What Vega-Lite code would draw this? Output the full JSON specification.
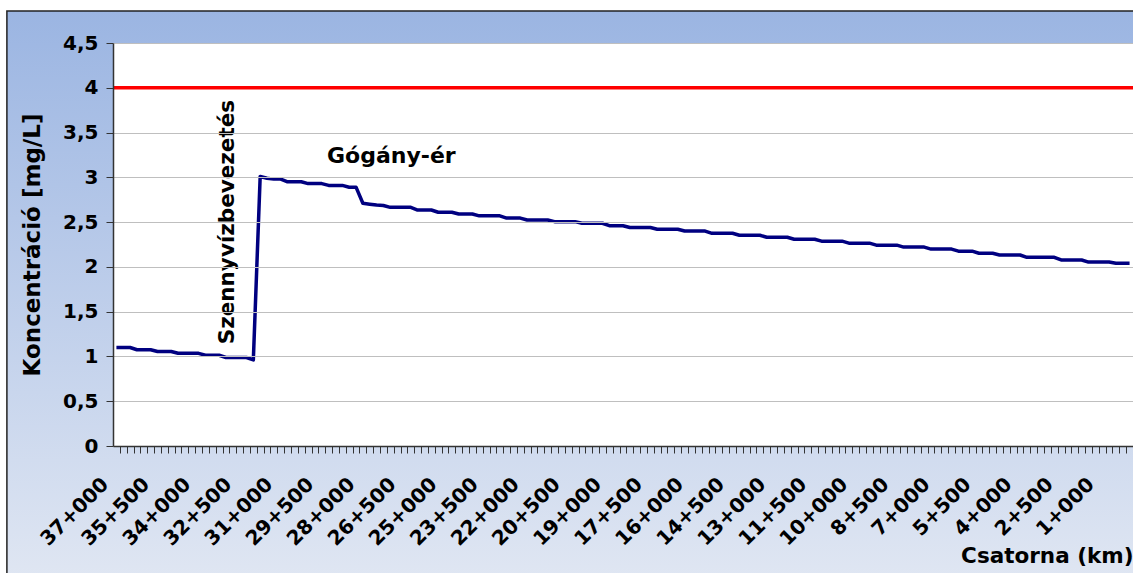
{
  "$schema": "https://vega.github.io/schema/vega-lite/v6.json",
  "width": 1020,
  "height": 403,
  "autosize": {"type": "none"},
  "padding": {"left": 113, "top": 43, "right": 0, "bottom": 127},
  "background": "white",
  "config": {"view": {"stroke": null}, "font": "DejaVu Sans"},
  "data": {"values": [
    {"km":37,"konc":1.1},{"km":36.75,"konc":1.1},{"km":36.5,"konc":1.1},{"km":36.25,"konc":1.075},{"km":36,"konc":1.075},{"km":35.75,"konc":1.075},
    {"km":35.5,"konc":1.055},{"km":35.25,"konc":1.055},{"km":35,"konc":1.055},{"km":34.75,"konc":1.035},{"km":34.5,"konc":1.035},{"km":34.25,"konc":1.035},
    {"km":34,"konc":1.035},{"km":33.75,"konc":1.013},{"km":33.5,"konc":1.013},{"km":33.25,"konc":1.013},{"km":33,"konc":0.988},{"km":32.75,"konc":0.988},
    {"km":32.5,"konc":0.988},{"km":32.25,"konc":0.988},{"km":32,"konc":0.962},{"km":31.75,"konc":3.01},{"km":31.5,"konc":2.99},{"km":31.25,"konc":2.98},
    {"km":31,"konc":2.98},{"km":30.75,"konc":2.95},{"km":30.5,"konc":2.95},{"km":30.25,"konc":2.95},{"km":30,"konc":2.93},{"km":29.75,"konc":2.93},
    {"km":29.5,"konc":2.93},{"km":29.25,"konc":2.91},{"km":29,"konc":2.91},{"km":28.75,"konc":2.91},{"km":28.5,"konc":2.89},{"km":28.25,"konc":2.89},
    {"km":28,"konc":2.71},{"km":27.75,"konc":2.7},{"km":27.5,"konc":2.69},{"km":27.25,"konc":2.685},{"km":27,"konc":2.665},{"km":26.75,"konc":2.665},
    {"km":26.5,"konc":2.665},{"km":26.25,"konc":2.665},{"km":26,"konc":2.635},{"km":25.75,"konc":2.635},{"km":25.5,"konc":2.635},{"km":25.25,"konc":2.61},
    {"km":25,"konc":2.61},{"km":24.75,"konc":2.61},{"km":24.5,"konc":2.59},{"km":24.25,"konc":2.59},{"km":24,"konc":2.59},{"km":23.75,"konc":2.57},
    {"km":23.5,"konc":2.57},{"km":23.25,"konc":2.57},{"km":23,"konc":2.57},{"km":22.75,"konc":2.545},{"km":22.5,"konc":2.545},{"km":22.25,"konc":2.545},
    {"km":22,"konc":2.523},{"km":21.75,"konc":2.523},{"km":21.5,"konc":2.523},{"km":21.25,"konc":2.523},{"km":21,"konc":2.505},{"km":20.75,"konc":2.505},
    {"km":20.5,"konc":2.505},{"km":20.25,"konc":2.505},{"km":20,"konc":2.487},{"km":19.75,"konc":2.487},{"km":19.5,"konc":2.487},{"km":19.25,"konc":2.487},
    {"km":19,"konc":2.46},{"km":18.75,"konc":2.46},{"km":18.5,"konc":2.46},{"km":18.25,"konc":2.44},{"km":18,"konc":2.44},{"km":17.75,"konc":2.44},
    {"km":17.5,"konc":2.44},{"km":17.25,"konc":2.42},{"km":17,"konc":2.42},{"km":16.75,"konc":2.42},{"km":16.5,"konc":2.42},{"km":16.25,"konc":2.4},
    {"km":16,"konc":2.4},{"km":15.75,"konc":2.4},{"km":15.5,"konc":2.4},{"km":15.25,"konc":2.375},{"km":15,"konc":2.375},{"km":14.75,"konc":2.375},
    {"km":14.5,"konc":2.375},{"km":14.25,"konc":2.353},{"km":14,"konc":2.353},{"km":13.75,"konc":2.353},{"km":13.5,"konc":2.353},{"km":13.25,"konc":2.331},
    {"km":13,"konc":2.331},{"km":12.75,"konc":2.331},{"km":12.5,"konc":2.331},{"km":12.25,"konc":2.309},{"km":12,"konc":2.309},{"km":11.75,"konc":2.309},
    {"km":11.5,"konc":2.309},{"km":11.25,"konc":2.287},{"km":11,"konc":2.287},{"km":10.75,"konc":2.287},{"km":10.5,"konc":2.287},{"km":10.25,"konc":2.265},
    {"km":10,"konc":2.265},{"km":9.75,"konc":2.265},{"km":9.5,"konc":2.265},{"km":9.25,"konc":2.243},{"km":9,"konc":2.243},{"km":8.75,"konc":2.243},
    {"km":8.5,"konc":2.243},{"km":8.25,"konc":2.221},{"km":8,"konc":2.221},{"km":7.75,"konc":2.221},{"km":7.5,"konc":2.221},{"km":7.25,"konc":2.199},
    {"km":7,"konc":2.199},{"km":6.75,"konc":2.199},{"km":6.5,"konc":2.199},{"km":6.25,"konc":2.176},{"km":6,"konc":2.176},{"km":5.75,"konc":2.176},
    {"km":5.5,"konc":2.152},{"km":5.25,"konc":2.152},{"km":5,"konc":2.152},{"km":4.75,"konc":2.133},{"km":4.5,"konc":2.133},{"km":4.25,"konc":2.133},
    {"km":4,"konc":2.133},{"km":3.75,"konc":2.107},{"km":3.5,"konc":2.107},{"km":3.25,"konc":2.107},{"km":3,"konc":2.107},{"km":2.75,"konc":2.107},
    {"km":2.5,"konc":2.077},{"km":2.25,"konc":2.077},{"km":2,"konc":2.077},{"km":1.75,"konc":2.077},{"km":1.5,"konc":2.054},{"km":1.25,"konc":2.054},
    {"km":1,"konc":2.054},{"km":0.75,"konc":2.054},{"km":0.5,"konc":2.04},{"km":0.25,"konc":2.04},{"km":0,"konc":2.04}
  ]},
  "layer": [
    {
      "data": {"values": [{}]},
      "mark": {"type": "rect", "clip": false, "stroke": "#222222", "strokeWidth": 1.5,
        "fill": {"gradient": "linear", "x1": 0, "y1": 0, "x2": 0, "y2": 1,
          "stops": [{"offset": 0, "color": "#9BB5E2"}, {"offset": 1, "color": "#E2E8F3"}]}},
      "encoding": {
        "x": {"datum": 41.0, "type": "quantitative", "scale": {"domain": [-0.125, 37.125], "reverse": true, "nice": false, "zero": false},
          "axis": {"values": [37.25,37,36.75,36.5,36.25,36,35.75,35.5,35.25,35,34.75,34.5,34.25,34,33.75,33.5,33.25,33,32.75,32.5,32.25,32,31.75,31.5,31.25,31,30.75,30.5,30.25,30,29.75,29.5,29.25,29,28.75,28.5,28.25,28,27.75,27.5,27.25,27,26.75,26.5,26.25,26,25.75,25.5,25.25,25,24.75,24.5,24.25,24,23.75,23.5,23.25,23,22.75,22.5,22.25,22,21.75,21.5,21.25,21,20.75,20.5,20.25,20,19.75,19.5,19.25,19,18.75,18.5,18.25,18,17.75,17.5,17.25,17,16.75,16.5,16.25,16,15.75,15.5,15.25,15,14.75,14.5,14.25,14,13.75,13.5,13.25,13,12.75,12.5,12.25,12,11.75,11.5,11.25,11,10.75,10.5,10.25,10,9.75,9.5,9.25,9,8.75,8.5,8.25,8,7.75,7.5,7.25,7,6.75,6.5,6.25,6,5.75,5.5,5.25,5,4.75,4.5,4.25,4,3.75,3.5,3.25,3,2.75,2.5,2.25,2,1.75,1.5,1.25,1,0.75,0.5,0.25,0]}},
        "x2": {"datum": -2},
        "y": {"datum": 4.857, "type": "quantitative", "scale": {"domain": [0, 4.5], "nice": false, "zero": false},
          "axis": {"values": [0, 0.5, 1, 1.5, 2, 2.5, 3, 3.5, 4, 4.5]}},
        "y2": {"datum": -1.72}
      }
    },
    {
      "data": {"values": [{}]},
      "mark": {"type": "rect", "clip": false, "fill": "white", "strokeWidth": 0},
      "encoding": {
        "x": {"datum": 37.125, "type": "quantitative", "scale": {"domain": [-0.125, 37.125], "reverse": true, "nice": false, "zero": false},
          "axis": {"values": [37.25,37,36.75,36.5,36.25,36,35.75,35.5,35.25,35,34.75,34.5,34.25,34,33.75,33.5,33.25,33,32.75,32.5,32.25,32,31.75,31.5,31.25,31,30.75,30.5,30.25,30,29.75,29.5,29.25,29,28.75,28.5,28.25,28,27.75,27.5,27.25,27,26.75,26.5,26.25,26,25.75,25.5,25.25,25,24.75,24.5,24.25,24,23.75,23.5,23.25,23,22.75,22.5,22.25,22,21.75,21.5,21.25,21,20.75,20.5,20.25,20,19.75,19.5,19.25,19,18.75,18.5,18.25,18,17.75,17.5,17.25,17,16.75,16.5,16.25,16,15.75,15.5,15.25,15,14.75,14.5,14.25,14,13.75,13.5,13.25,13,12.75,12.5,12.25,12,11.75,11.5,11.25,11,10.75,10.5,10.25,10,9.75,9.5,9.25,9,8.75,8.5,8.25,8,7.75,7.5,7.25,7,6.75,6.5,6.25,6,5.75,5.5,5.25,5,4.75,4.5,4.25,4,3.75,3.5,3.25,3,2.75,2.5,2.25,2,1.75,1.5,1.25,1,0.75,0.5,0.25,0]}},
        "x2": {"datum": -0.125},
        "y": {"datum": 0, "type": "quantitative", "scale": {"domain": [0, 4.5], "nice": false, "zero": false},
          "axis": {"values": [0, 0.5, 1, 1.5, 2, 2.5, 3, 3.5, 4, 4.5]}},
        "y2": {"datum": 4.5}
      }
    },
    {
      "data": {"values": [{}]},
      "mark": {"type": "rule", "color": "#FF0000", "strokeWidth": 3.5},
      "encoding": {
        "y": {"datum": 4, "type": "quantitative", "scale": {"domain": [0, 4.5], "nice": false, "zero": false},
          "axis": {"values": [0, 0.5, 1, 1.5, 2, 2.5, 3, 3.5, 4, 4.5]}}
      }
    },
    {
      "mark": {"type": "line", "color": "#000080", "strokeWidth": 3.5, "strokeJoin": "round"},
      "encoding": {
        "x": {"field": "km", "type": "quantitative",
          "scale": {"domain": [-0.125, 37.125], "reverse": true, "nice": false, "zero": false},
          "axis": {
            "values": [37.25,37,36.75,36.5,36.25,36,35.75,35.5,35.25,35,34.75,34.5,34.25,34,33.75,33.5,33.25,33,32.75,32.5,32.25,32,31.75,31.5,31.25,31,30.75,30.5,30.25,30,29.75,29.5,29.25,29,28.75,28.5,28.25,28,27.75,27.5,27.25,27,26.75,26.5,26.25,26,25.75,25.5,25.25,25,24.75,24.5,24.25,24,23.75,23.5,23.25,23,22.75,22.5,22.25,22,21.75,21.5,21.25,21,20.75,20.5,20.25,20,19.75,19.5,19.25,19,18.75,18.5,18.25,18,17.75,17.5,17.25,17,16.75,16.5,16.25,16,15.75,15.5,15.25,15,14.75,14.5,14.25,14,13.75,13.5,13.25,13,12.75,12.5,12.25,12,11.75,11.5,11.25,11,10.75,10.5,10.25,10,9.75,9.5,9.25,9,8.75,8.5,8.25,8,7.75,7.5,7.25,7,6.75,6.5,6.25,6,5.75,5.5,5.25,5,4.75,4.5,4.25,4,3.75,3.5,3.25,3,2.75,2.5,2.25,2,1.75,1.5,1.25,1,0.75,0.5,0.25,0],
            "labelExpr": "(datum.value <= 37 && datum.value >= 1 && round((37 - datum.value) * 4) % 6 == 0) ? (floor(datum.value) + '+' + (datum.value % 1 == 0.5 ? '500' : '000')) : ''",
            "labelAngle": -45, "labelAlign": "right", "labelBaseline": "middle",
            "labelFont": "DejaVu Sans", "labelFontWeight": "bold", "labelFontSize": 20, "labelColor": "#000000",
            "labelOverlap": false, "labelFlush": false, "labelBound": false,
            "labelPadding": 28, "labelOffset": -15, "tickOffset": 3.42,
            "tickSize": 7, "tickColor": "#333333", "tickWidth": 1,
            "domainColor": "#333333", "domainWidth": 1.5, "grid": false,
            "title": "Csatorna (km)", "titleFont": "DejaVu Sans", "titleFontWeight": "bold", "titleFontSize": 21.5, "titleColor": "#000000",
            "titleAnchor": "start", "titleAlign": "right", "titlePadding": -4, "zindex": 2
          }},
        "y": {"field": "konc", "type": "quantitative",
          "scale": {"domain": [0, 4.5], "nice": false, "zero": false},
          "axis": {
            "values": [0, 0.5, 1, 1.5, 2, 2.5, 3, 3.5, 4, 4.5],
            "format": "~g",
            "labelExpr": "replace(datum.label, '.', ',')",
            "labelFont": "DejaVu Sans", "labelFontWeight": "bold", "labelFontSize": 20, "labelColor": "#000000",
            "labelPadding": 8, "tickSize": 7, "tickColor": "#333333", "tickWidth": 1,
            "domainColor": "#333333", "domainWidth": 1.5,
            "grid": true, "gridColor": "#BFBFBF", "gridWidth": 1,
            "gridOpacity": {"condition": {"test": "datum.value == 4 || datum.value == 0", "value": 0}, "value": 1},
            "title": "Koncentráció [mg/L]", "titleFont": "DejaVu Sans", "titleFontWeight": "bold", "titleFontSize": 23, "titleColor": "#000000",
            "titlePadding": 18, "zindex": 2
          }}
      }
    },
    {
      "data": {"values": [{}]},
      "mark": {"type": "text", "text": "Szennyvízbevezetés", "angle": 270, "align": "center", "baseline": "middle",
        "font": "DejaVu Sans", "fontWeight": "bold", "fontSize": 21.5, "color": "#000000"},
      "encoding": {
        "x": {"datum": 32.925, "type": "quantitative", "scale": {"domain": [-0.125, 37.125], "reverse": true, "nice": false, "zero": false},
          "axis": {"values": [37.25,37,36.75,36.5,36.25,36,35.75,35.5,35.25,35,34.75,34.5,34.25,34,33.75,33.5,33.25,33,32.75,32.5,32.25,32,31.75,31.5,31.25,31,30.75,30.5,30.25,30,29.75,29.5,29.25,29,28.75,28.5,28.25,28,27.75,27.5,27.25,27,26.75,26.5,26.25,26,25.75,25.5,25.25,25,24.75,24.5,24.25,24,23.75,23.5,23.25,23,22.75,22.5,22.25,22,21.75,21.5,21.25,21,20.75,20.5,20.25,20,19.75,19.5,19.25,19,18.75,18.5,18.25,18,17.75,17.5,17.25,17,16.75,16.5,16.25,16,15.75,15.5,15.25,15,14.75,14.5,14.25,14,13.75,13.5,13.25,13,12.75,12.5,12.25,12,11.75,11.5,11.25,11,10.75,10.5,10.25,10,9.75,9.5,9.25,9,8.75,8.5,8.25,8,7.75,7.5,7.25,7,6.75,6.5,6.25,6,5.75,5.5,5.25,5,4.75,4.5,4.25,4,3.75,3.5,3.25,3,2.75,2.5,2.25,2,1.75,1.5,1.25,1,0.75,0.5,0.25,0]}},
        "y": {"datum": 2.5, "type": "quantitative", "scale": {"domain": [0, 4.5], "nice": false, "zero": false},
          "axis": {"values": [0, 0.5, 1, 1.5, 2, 2.5, 3, 3.5, 4, 4.5]}}
      }
    },
    {
      "data": {"values": [{}]},
      "mark": {"type": "text", "text": "Gógány-ér", "align": "left", "baseline": "alphabetic",
        "font": "DejaVu Sans", "fontWeight": "bold", "fontSize": 22, "color": "#000000"},
      "encoding": {
        "x": {"datum": 29.31, "type": "quantitative", "scale": {"domain": [-0.125, 37.125], "reverse": true, "nice": false, "zero": false},
          "axis": {"values": [37.25,37,36.75,36.5,36.25,36,35.75,35.5,35.25,35,34.75,34.5,34.25,34,33.75,33.5,33.25,33,32.75,32.5,32.25,32,31.75,31.5,31.25,31,30.75,30.5,30.25,30,29.75,29.5,29.25,29,28.75,28.5,28.25,28,27.75,27.5,27.25,27,26.75,26.5,26.25,26,25.75,25.5,25.25,25,24.75,24.5,24.25,24,23.75,23.5,23.25,23,22.75,22.5,22.25,22,21.75,21.5,21.25,21,20.75,20.5,20.25,20,19.75,19.5,19.25,19,18.75,18.5,18.25,18,17.75,17.5,17.25,17,16.75,16.5,16.25,16,15.75,15.5,15.25,15,14.75,14.5,14.25,14,13.75,13.5,13.25,13,12.75,12.5,12.25,12,11.75,11.5,11.25,11,10.75,10.5,10.25,10,9.75,9.5,9.25,9,8.75,8.5,8.25,8,7.75,7.5,7.25,7,6.75,6.5,6.25,6,5.75,5.5,5.25,5,4.75,4.5,4.25,4,3.75,3.5,3.25,3,2.75,2.5,2.25,2,1.75,1.5,1.25,1,0.75,0.5,0.25,0]}},
        "y": {"datum": 3.16, "type": "quantitative", "scale": {"domain": [0, 4.5], "nice": false, "zero": false},
          "axis": {"values": [0, 0.5, 1, 1.5, 2, 2.5, 3, 3.5, 4, 4.5]}}
      }
    }
  ]
}
